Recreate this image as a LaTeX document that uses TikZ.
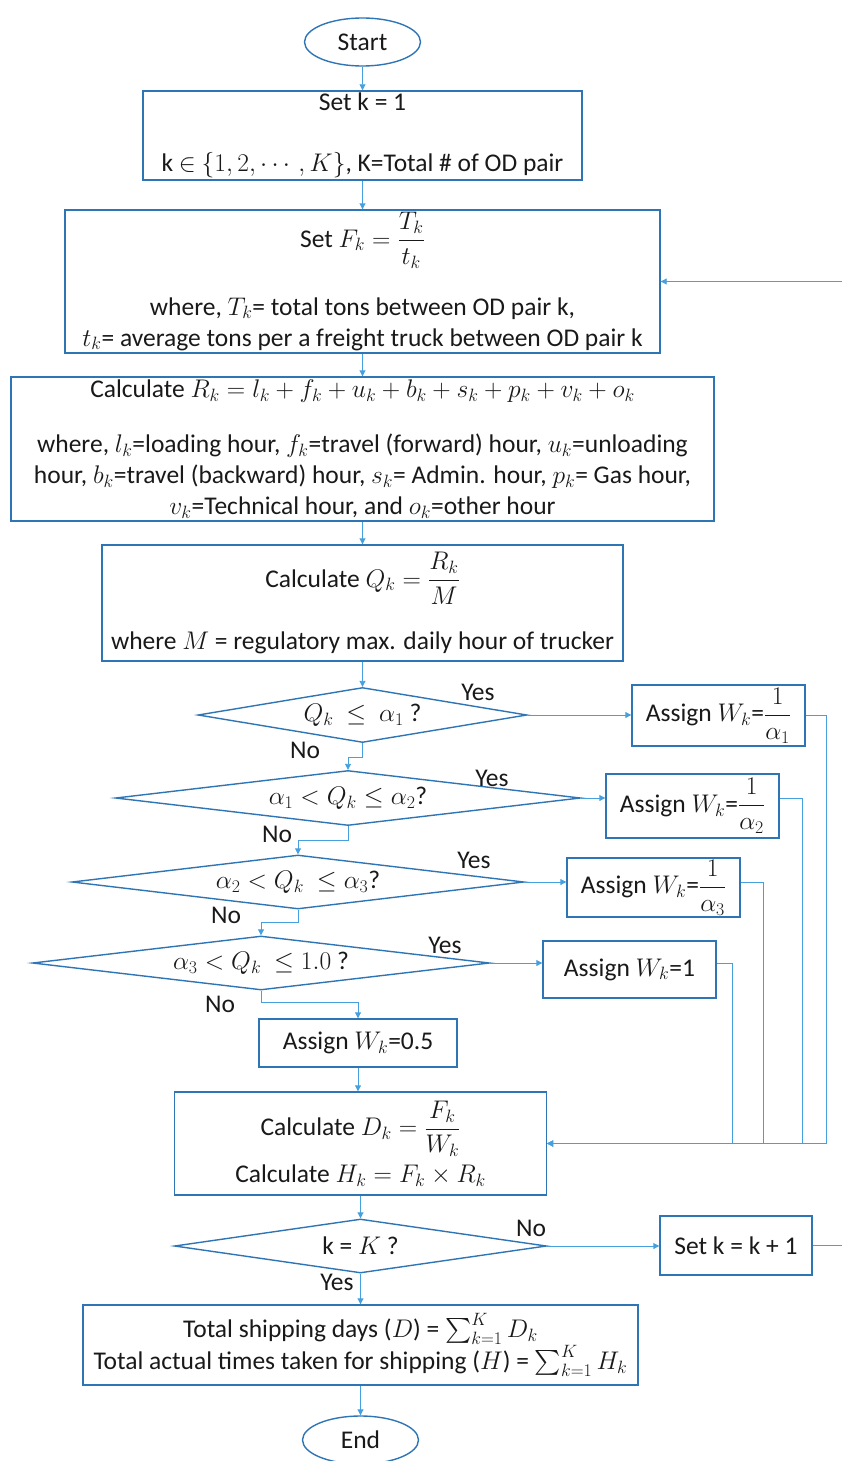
\documentclass[tikz,border=0pt]{standalone}
\usepackage{fix-cm}
\usepackage{amsmath}
\usepackage{fontspec}
\setmainfont{Carlito}
\usetikzlibrary{shapes.geometric,arrows.meta,calc}
\definecolor{boxblue}{RGB}{46,117,182}
\definecolor{linkblue}{RGB}{70,160,222}
\begin{document}
\begin{tikzpicture}[x=1pt,y=-1pt,
  every node/.style={font=\fontsize{25.5}{31}\selectfont, text=black!90},
  proc/.style={draw=boxblue, line width=1.4pt, align=center, inner sep=2pt},
  term/.style={draw=boxblue, line width=1.4pt, ellipse, minimum width=116, minimum height=48, inner sep=0pt},
  dec/.style={draw=boxblue, line width=1.4pt, diamond, inner sep=0pt, aspect=7},
  lbl/.style={inner sep=0pt},
  conn/.style={draw=linkblue, line width=0.9pt, -{Triangle[length=6pt,width=6pt]}},
  plain/.style={draw=linkblue, line width=0.9pt}
]
\useasboundingbox (0,0) rectangle (842,1461);

\node[term] (start) at (362.5,42) {Start};
\node[proc, minimum width=439, minimum height=85] (b1) at (362.5,135.5)
  {Set k = 1\\[30pt] k $\in$ $\{1,2,\cdots,K\}$, K=Total \# of OD pair};
\node[proc, minimum width=595, minimum height=143] (b2) at (362.5,281.5)
  {Set $F_k=\dfrac{T_k}{t_k}$\\[28pt] where, $T_k$= total tons between OD pair k,\\ $t_k$= average tons per a freight truck between OD pair k};
\node[proc, minimum width=703, minimum height=144] (b3) at (362.5,449)
  {Calculate $R_k = l_k + f_k + u_k + b_k + s_k + p_k + v_k + o_k$\\[24pt]
   where, $l_k$=loading hour, $f_k$=travel (forward) hour, $u_k$=unloading\\
   hour, $b_k$=travel (backward) hour, $s_k$= Admin. hour, $p_k$= Gas hour,\\
   $v_k$=Technical hour, and $o_k$=other hour};
\node[proc, minimum width=521, minimum height=116] (b4) at (362.5,603)
  {Calculate $Q_k=\dfrac{R_k}{M}$\\[26pt] where $M$ = regulatory max. daily hour of trucker};

\node[dec, minimum width=329, minimum height=55] (d1) at (362.5,715) {$Q_k\ \le\ \alpha_1$ ?};
\node[lbl] (yes1) at (478,692) {Yes};
\node[lbl] (no1) at (305,750) {No};
\node[proc, minimum width=173, minimum height=61] (a1) at (718.5,715.5) {Assign $W_k$=$\dfrac{1}{\alpha_1}$};

\node[dec, minimum width=465, minimum height=55] (d2) at (348,798) {$\alpha_1 < Q_k \le \alpha_2$?};
\node[lbl] (yes2) at (492,778) {Yes};
\node[lbl] (no2) at (277,834) {No};
\node[proc, minimum width=173, minimum height=64] (a2) at (692.5,806) {Assign $W_k$=$\dfrac{1}{\alpha_2}$};

\node[dec, minimum width=452, minimum height=54] (d3) at (298,882) {$\alpha_2 < Q_k\ \le \alpha_3$?};
\node[lbl] (yes3) at (474,860) {Yes};
\node[lbl] (no3) at (226,915) {No};
\node[proc, minimum width=173, minimum height=59] (a3) at (653.5,887.5) {Assign $W_k$=$\dfrac{1}{\alpha_3}$};

\node[dec, minimum width=457, minimum height=54] (d4) at (261,963) {$\alpha_3 < Q_k\ \le 1.0$ ?};
\node[lbl] (yes4) at (445,945) {Yes};
\node[lbl] (no4) at (220,1004) {No};
\node[proc, minimum width=173, minimum height=57] (a4) at (629.5,969.5) {Assign $W_k$=1};

\node[proc, minimum width=198, minimum height=48] (w05) at (358,1043) {Assign $W_k$=0.5};
\node[proc, minimum width=372, minimum height=103] (calc) at (360.5,1143.5)
  {Calculate $D_k=\dfrac{F_k}{W_k}$\\[7pt] Calculate $H_k = F_k\times R_k$};

\node[dec, minimum width=372, minimum height=54] (d5) at (360.5,1246) {k = $K$ ?};
\node[lbl] (no5) at (531,1228) {No};
\node[lbl] (yes5) at (337,1282) {Yes};
\node[proc, minimum width=152, minimum height=59] (setk) at (736,1245.5) {Set k = k + 1};

\node[proc, minimum width=555, minimum height=80] (final) at (360.5,1345)
  {Total shipping days ($D$) = $\sum_{k=1}^{K} D_k$\\ Total actual times taken for shipping ($H$) = $\sum_{k=1}^{K} H_k$};
\node[term] (endn) at (360.5,1440) {End};

\coordinate (offr) at (852,1245.5);

\draw[conn] (start.south) -- (b1.north);
\draw[conn] (b1.south) -- (b2.north);
\draw[conn] (b2.south) -- (b3.north);
\draw[conn] (b3.south) -- (b4.north);
\draw[conn] (b4.south) -- (d1.north);

\draw[conn] (d1.east) -- (d1.east -| a1.west);
\draw[conn] (d2.east) -- (d2.east -| a2.west);
\draw[conn] (d3.east) -- (d3.east -| a3.west);
\draw[conn] (d4.east) -- (d4.east -| a4.west);

\draw[conn] (d1.south) -- ++(0,14) -| (d2.north);
\draw[conn] (d2.south) -- ++(0,14) -| (d3.north);
\draw[conn] (d3.south) -- ++(0,13) -| (d4.north);
\draw[conn] (d4.south) -- ++(0,12) -| (w05.north);

\draw[conn] (a1.east |- d1.east) -- ++(21,0) |- (calc.east);
\draw[conn] (a2.east |- d2.east) -- ++(23,0) |- (calc.east);
\draw[conn] (a3.east |- d3.east) -- ++(23,0) |- (calc.east);
\draw[conn] (a4.east |- d4.east) -- ++(16,0) |- (calc.east);

\draw[conn] (w05.south) -- (w05.south |- calc.north);
\draw[conn] (calc.south) -- (d5.north);
\draw[conn] (d5.east) -- (d5.east -| setk.west);
\draw[conn] (setk.east) -- (offr) |- (b2.east);
\draw[conn] (d5.south) -- (final.north);
\draw[conn] (final.south) -- (endn.north);
\end{tikzpicture}
\end{document}
